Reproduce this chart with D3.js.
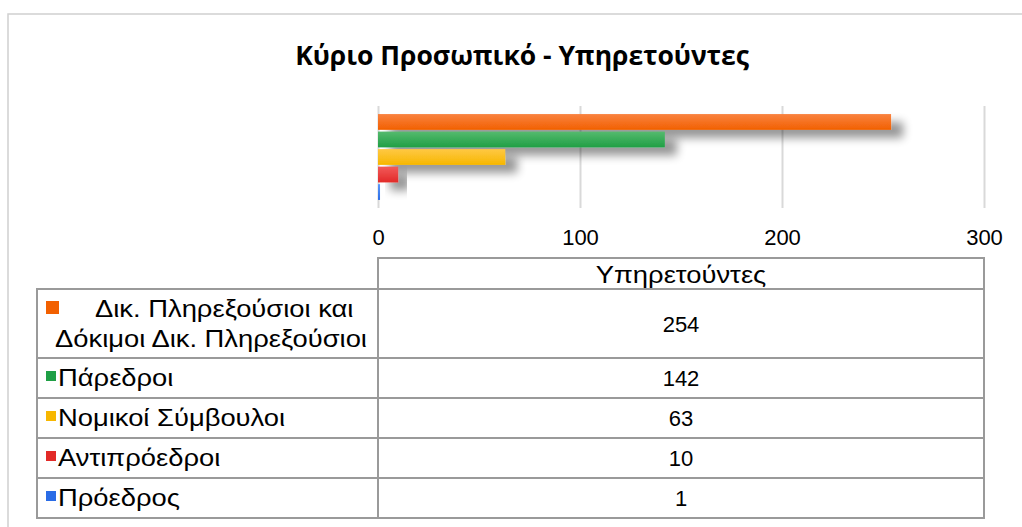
<!DOCTYPE html>
<html>
<head>
<meta charset="utf-8">
<script src="https://cdn.jsdelivr.net/npm/d3@7"></script>
<style>
  body { margin: 0; background: #fff; }
  svg { display: block; }
  .tick-label, .cell-text { font-family: 'Liberation Sans', Arial, sans-serif; fill: #000; }
  .title { font-family: 'Open Sans', sans-serif; font-weight: 700; fill: #000; }
</style>
</head>
<body>
<div id="chart"></div>
<script>
// Data
const categories = ['Δικ. Πληρεξούσιοι και Δόκιμοι Δικ. Πληρεξούσιοι', 'Πάρεδροι', 'Νομικοί Σύμβουλοι', 'Αντιπρόεδροι', 'Πρόεδρος']
const categoryLines = [['Δικ. Πληρεξούσιοι και', 'Δόκιμοι Δικ. Πληρεξούσιοι'], ['Πάρεδροι'], ['Νομικοί Σύμβουλοι'], ['Αντιπρόεδροι'], ['Πρόεδρος']]
const values = [254, 142, 63, 10, 1]
const seriesName = 'Υπηρετούντες'
const tickValues = [0, 100, 200, 300]
const colors = [
  ['#f98240', '#f26000'],
  ['#55ba6e', '#1f9f45'],
  ['#ffc844', '#f7b700'],
  ['#f25a5a', '#e22a28'],
  ['#5c98fa', '#2a6ce6']
]
const title = 'Κύριο Προσωπικό - Υπηρετούντες'

const width = 1022
const height = 527
const plot = { left: 378, right: 984, top: 106, bottom: 208 }
const table = { left: 37, mid: 378, right: 984, headTop: 258, headBottom: 289 }
const rowHeights = [69, 40, 40, 40, 40]
const textStretch = 1.19 // Greek glyphs in the original are wider than Liberation Sans

const svg = d3.select('#chart')
  .append('svg')
  .attr('width', width)
  .attr('height', height)

const defs = svg.append('defs')

// Shadow filter
const shadow = defs.append('filter')
  .attr('id', 'shadow')
  .attr('x', '-20%').attr('y', '-100%')
  .attr('width', '160%').attr('height', '400%')
shadow.append('feGaussianBlur').attr('in', 'SourceAlpha').attr('stdDeviation', 5).attr('result', 'blur')
shadow.append('feOffset').attr('in', 'blur').attr('dx', 12).attr('dy', 8).attr('result', 'off')
shadow.append('feComponentTransfer').attr('in', 'off').attr('result', 'shade')
  .append('feFuncA').attr('type', 'linear').attr('slope', 0.42)
const merge = shadow.append('feMerge')
merge.append('feMergeNode').attr('in', 'shade')
merge.append('feMergeNode').attr('in', 'SourceGraphic')

colors.forEach((c, i) => {
  const grad = defs.append('linearGradient')
    .attr('id', `grad${i}`)
    .attr('x1', 0).attr('y1', 0).attr('x2', 0).attr('y2', 1)
  grad.append('stop').attr('offset', '0%').attr('stop-color', c[0])
  grad.append('stop').attr('offset', '100%').attr('stop-color', c[1])
})

// Outer frame
svg.append('rect')
  .attr('x', 8).attr('y', 14)
  .attr('width', 1200).attr('height', 700)
  .attr('fill', 'none')
  .attr('stroke', '#d0d0d0')
  .attr('stroke-width', 1.5)

// Title
svg.append('text')
  .attr('class', 'title')
  .attr('x', 522)
  .attr('y', 65)
  .attr('text-anchor', 'middle')
  .attr('font-size', 26.5)
  .text(title)

// Scales
const xScale = d3.scaleLinear().domain([0, 300]).range([plot.left, plot.right])
const yScale = d3.scaleBand()
  .domain(categories)
  .range([plot.top, plot.bottom])
  .paddingInner(0.1)
  .paddingOuter(0.46)

// Gridlines
svg.append('g')
  .attr('transform', `translate(0, ${plot.bottom})`)
  .call(d3.axisBottom(xScale).tickValues(tickValues).tickSize(-(plot.bottom - plot.top)).tickFormat(''))
  .call(g => g.select('.domain').remove())
  .call(g => g.selectAll('.tick line').attr('stroke', '#d9d9d9').attr('stroke-width', 2))

// Bars
svg.append('g')
  .selectAll('rect')
  .data(values)
  .join('rect')
  .attr('x', xScale(0))
  .attr('y', (d, i) => yScale(categories[i]))
  .attr('width', d => xScale(d) - xScale(0))
  .attr('height', yScale.bandwidth())
  .attr('fill', (d, i) => `url(#grad${i})`)
  .attr('filter', 'url(#shadow)')

// Tick labels
svg.append('g')
  .attr('transform', `translate(0, ${plot.bottom + 37})`)
  .call(d3.axisBottom(xScale).tickValues(tickValues).tickSize(0).tickPadding(0))
  .call(g => g.select('.domain').remove())
  .call(g => g.selectAll('.tick text')
    .attr('class', 'tick-label')
    .attr('dy', 0)
    .attr('font-size', 22)
    .attr('fill', '#000'))

// Data table
const tbl = svg.append('g')
const lineStyle = sel => sel.attr('stroke', '#9a9a9a').attr('stroke-width', 2).attr('fill', 'none')

// stretched text helper
function greekText(x, y, str, anchor, size) {
  tbl.append('text')
    .attr('class', 'cell-text')
    .attr('transform', `translate(${x},${y}) scale(${textStretch},1)`)
    .attr('text-anchor', anchor)
    .attr('font-size', size)
    .text(str)
}

// Header cell
tbl.append('rect')
  .attr('x', table.mid).attr('y', table.headTop)
  .attr('width', table.right - table.mid)
  .attr('height', table.headBottom - table.headTop)
  .call(lineStyle)
greekText((table.mid + table.right) / 2, table.headBottom - 6, seriesName, 'middle', 23)

const rowTops = d3.cumsum([table.headBottom].concat(rowHeights))
categories.forEach((cat, i) => {
  const y0 = rowTops[i]
  const h = rowHeights[i]
  const mid = y0 + h / 2

  tbl.append('rect')
    .attr('x', table.left).attr('y', y0)
    .attr('width', table.mid - table.left).attr('height', h)
    .call(lineStyle)
  tbl.append('rect')
    .attr('x', table.mid).attr('y', y0)
    .attr('width', table.right - table.mid).attr('height', h)
    .call(lineStyle)

  const lines = categoryLines[i]
  if (lines.length === 1) {
    tbl.append('rect')
      .attr('x', 46).attr('y', mid - 7)
      .attr('width', 10).attr('height', 10)
      .attr('fill', colors[i][1])
    greekText(58, mid + 8, lines[0], 'start', 23)
  } else {
    tbl.append('rect')
      .attr('x', 46).attr('y', y0 + 12)
      .attr('width', 13).attr('height', 13)
      .attr('fill', colors[i][1])
    greekText(95, y0 + 28, lines[0], 'start', 23)
    greekText(55, y0 + 58, lines[1], 'start', 23)
  }

  tbl.append('text')
    .attr('class', 'cell-text')
    .attr('x', (table.mid + table.right) / 2)
    .attr('y', mid + 8)
    .attr('text-anchor', 'middle')
    .attr('font-size', 22)
    .text(values[i])
})
</script>
</body>
</html>
